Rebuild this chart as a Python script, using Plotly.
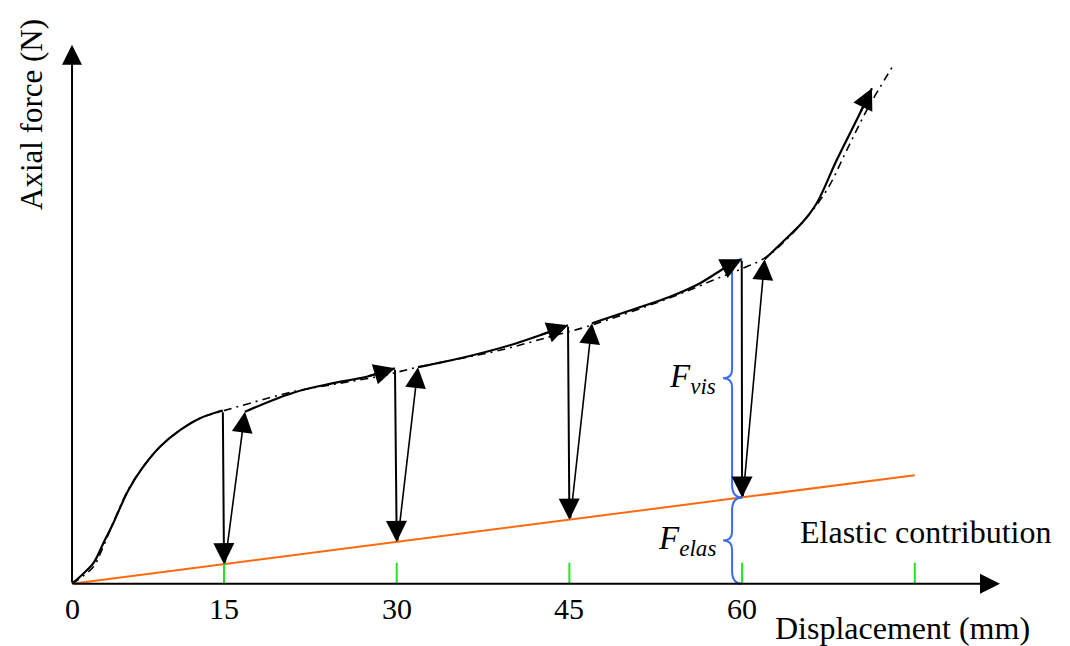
import plotly.graph_objects as go

# ---------------- data ----------------
X0 = 1.8                      # displacement position of the axes origin
TICK_VALS = [15, 30, 45, 60, 75]
TICK_LABELS = ["15", "30", "45", "60", ""]
ORIGIN_LABEL = "0"

# loading branches (solid, each ending with an arrow head)
LOAD1_X = [1.8, 2.49, 3.65, 4.52, 5.38, 6.69, 7.99, 9.44, 11.18, 12.92, 14.37, 14.9]
LOAD1_Y = [0.0, 1.4, 4.1, 8.1, 12.1, 18.7, 23.4, 27.4, 30.7, 33.1, 34.3, 34.6]
LOAD2_X = [16.82, 21.02, 24.47, 27.39, 29.85]
LOAD2_Y = [34.4, 38.2, 40.1, 41.4, 43.1]
LOAD3_X = [31.85, 36.08, 39.84, 42.45, 44.88]
LOAD3_Y = [43.3, 45.4, 47.7, 49.7, 51.7]
LOAD4_X = [46.96, 50.85, 53.74, 56.35, 58.66, 59.97]
LOAD4_Y = [52.1, 55.1, 57.4, 60.1, 63.4, 64.9]
LOAD5_X = [61.96, 63.5, 65.29, 66.48, 68.21, 70.24, 71.28]
LOAD5_Y = [64.9, 68.3, 72.4, 76.1, 84.7, 94.1, 99.1]

# relaxation hold points (displacement where force drops to elastic line)
RELAX_X = [15, 30, 45, 60]

# elastic contribution line
ELASTIC_X = [1.8, 75.0]
ELASTIC_Y = [0.0, 21.7]

# fitted (dash-dot) envelope curve
FIT_X = [1.8, 3.62, 4.49, 5.36, 6.66, 7.99, 9.44, 11.18, 12.92, 14.83, 17.26, 20.99,
         25.08, 28.55, 32.02, 38.97, 43.32, 46.5, 54.32, 57.47, 60.08, 62.14, 65.03,
         67.35, 69.09, 70.83, 73.14]
FIT_Y = [0.0, 3.3, 7.3, 12.1, 18.7, 23.4, 27.4, 30.7, 33.1, 34.5, 36.1, 38.4,
         40.1, 41.5, 43.4, 46.7, 49.4, 51.4, 57.7, 60.7, 63.1, 65.4, 71.7,
         78.7, 86.7, 94.7, 103.7]

AXIS_X_END = 82.4
AXIS_Y_END = 107.8

# ---------------- figure geometry ----------------
W, H = 1070, 646
OFF = 8                       # page offset of the plot div
PX_PER_MM = 11.513
PX_PER_N = 5.0
X_RANGE = [15 + (OFF - 224) / PX_PER_MM, 15 + (W + OFF - 224) / PX_PER_MM]
Y_RANGE = [(583.7 - H - OFF) / PX_PER_N, (583.7 - OFF) / PX_PER_N]

FONT = "Liberation Serif"
BLACK = "#000000"
ORANGE = "#ff6a10"
GREEN = "#22e622"
BLUE = "#3a6cf4"


def elastic(x):
    x0, x1 = ELASTIC_X
    y0, y1 = ELASTIC_Y
    return y0 + (y1 - y0) * (x - x0) / (x1 - x0)


def arrow(x, y, ax, ay, width=2.0, size=2.1, color=BLACK):
    return dict(x=x, y=y, ax=ax, ay=ay, xref="x", yref="y", axref="x", ayref="y",
                text="", showarrow=True, arrowhead=2, arrowsize=size,
                arrowwidth=width, arrowcolor=color)


def px2paper(px, py):
    return (px - OFF) / W, 1 - (py - OFF) / H


fig = go.Figure()

# elastic line
fig.add_trace(go.Scatter(x=ELASTIC_X, y=ELASTIC_Y, mode="lines",
                         line=dict(color=ORANGE, width=2), hoverinfo="skip"))

# fitted dash-dot curve
fig.add_trace(go.Scatter(x=FIT_X, y=FIT_Y, mode="lines", line_shape="spline",
                         line=dict(color=BLACK, width=1.6, dash="8px,5px,2px,5px"),
                         hoverinfo="skip"))

loads = [(LOAD1_X, LOAD1_Y), (LOAD2_X, LOAD2_Y), (LOAD3_X, LOAD3_Y),
         (LOAD4_X, LOAD4_Y), (LOAD5_X, LOAD5_Y)]

annotations = []
for lx, ly in loads:
    fig.add_trace(go.Scatter(x=lx, y=ly, mode="lines", line_shape="spline",
                             line=dict(color=BLACK, width=2.2), hoverinfo="skip"))
    annotations.append(arrow(lx[-1], ly[-1], lx[-2], ly[-2], width=2, size=2.1))

# relaxation drops and reloading arrows
for k, rx in enumerate(RELAX_X):
    tx, ty = loads[k][0][-1], loads[k][1][-1]
    ry = elastic(rx)
    annotations.append(arrow(rx, ry, tx, ty, width=2, size=2.1))
    nx, ny = loads[k + 1][0][0], loads[k + 1][1][0]
    annotations.append(arrow(nx, ny, rx + 0.08, ry, width=1.6, size=2.6))

# axes with arrow heads
annotations.append(arrow(AXIS_X_END, 0, X0, 0, width=2, size=2.0))
annotations.append(arrow(X0, AXIS_Y_END, X0, 0, width=2, size=2.0))

shapes = []
# green tick marks
for tv in TICK_VALS:
    shapes.append(dict(type="line", xref="x", yref="y", x0=tv, x1=tv, y0=0, y1=4.2,
                       line=dict(color=GREEN, width=2)))


# curly braces (F_vis and F_elas) built from the data
def brace(xr, ytop, ybot):
    xs = xr - 10 / PX_PER_MM
    xt = xr - 19 / PX_PER_MM
    re = 13 / PX_PER_N
    rt = 9 / PX_PER_N
    ym = (ytop + ybot) / 2
    return (f"M {xr},{ytop} Q {xs},{ytop} {xs},{ytop - re} "
            f"L {xs},{ym + rt} Q {xs},{ym} {xt},{ym} "
            f"Q {xs},{ym} {xs},{ym - rt} "
            f"L {xs},{ybot + re} Q {xs},{ybot} {xr},{ybot}")


peak = LOAD4_Y[-1]
el60 = elastic(RELAX_X[3])
shapes.append(dict(type="path", xref="x", yref="y", path=brace(RELAX_X[3], peak, el60),
                   line=dict(color=BLUE, width=2)))
shapes.append(dict(type="path", xref="x", yref="y", path=brace(RELAX_X[3], el60, 0),
                   line=dict(color=BLUE, width=2)))

# brace labels
lab_x = RELAX_X[3] - 24 / PX_PER_MM
annotations.append(dict(x=lab_x, y=(peak + el60) / 2, xref="x", yref="y",
                        text="<i>F</i><sub><i>vis</i></sub>", showarrow=False,
                        xanchor="right", yanchor="middle",
                        font=dict(family=FONT, size=33, color=BLACK)))
annotations.append(dict(x=lab_x, y=el60 / 2, xref="x", yref="y",
                        text="<i>F</i><sub><i>elas</i></sub>", showarrow=False,
                        xanchor="right", yanchor="middle",
                        font=dict(family=FONT, size=33, color=BLACK)))

# tick labels
tick_font = dict(family=FONT, size=30, color=BLACK)
tick_y = px2paper(0, 608)[1]
annotations.append(dict(x=X0, y=tick_y, xref="x", yref="paper",
                        text=ORIGIN_LABEL, showarrow=False, xanchor="center",
                        yanchor="middle", font=tick_font))
for tv, tl in zip(TICK_VALS, TICK_LABELS):
    if tl:
        annotations.append(dict(x=tv, y=tick_y, xref="x", yref="paper",
                                text=tl, showarrow=False, xanchor="center",
                                yanchor="middle", font=tick_font))

# axis titles & label
big_font = dict(family=FONT, size=32, color=BLACK)
px, py = px2paper(902, 628)
annotations.append(dict(x=px, y=py, xref="paper", yref="paper", text="Displacement (mm)",
                        showarrow=False, xanchor="center", yanchor="middle", font=big_font))
px, py = px2paper(31, 115)
annotations.append(dict(x=px, y=py, xref="paper", yref="paper", text="Axial force (N)",
                        showarrow=False, xanchor="center", yanchor="middle", textangle=-90,
                        font=dict(family=FONT, size=31, color=BLACK)))
px, py = px2paper(926, 532)
annotations.append(dict(x=px, y=py, xref="paper", yref="paper", text="Elastic contribution",
                        showarrow=False, xanchor="center", yanchor="middle", font=big_font))

fig.update_layout(
    width=W, height=H,
    margin=dict(l=0, r=0, t=0, b=0),
    paper_bgcolor="white", plot_bgcolor="white",
    showlegend=False,
    xaxis=dict(range=X_RANGE, visible=False, fixedrange=True),
    yaxis=dict(range=Y_RANGE, visible=False, fixedrange=True),
    annotations=annotations,
    shapes=shapes,
)

fig.write_html("out.html")
